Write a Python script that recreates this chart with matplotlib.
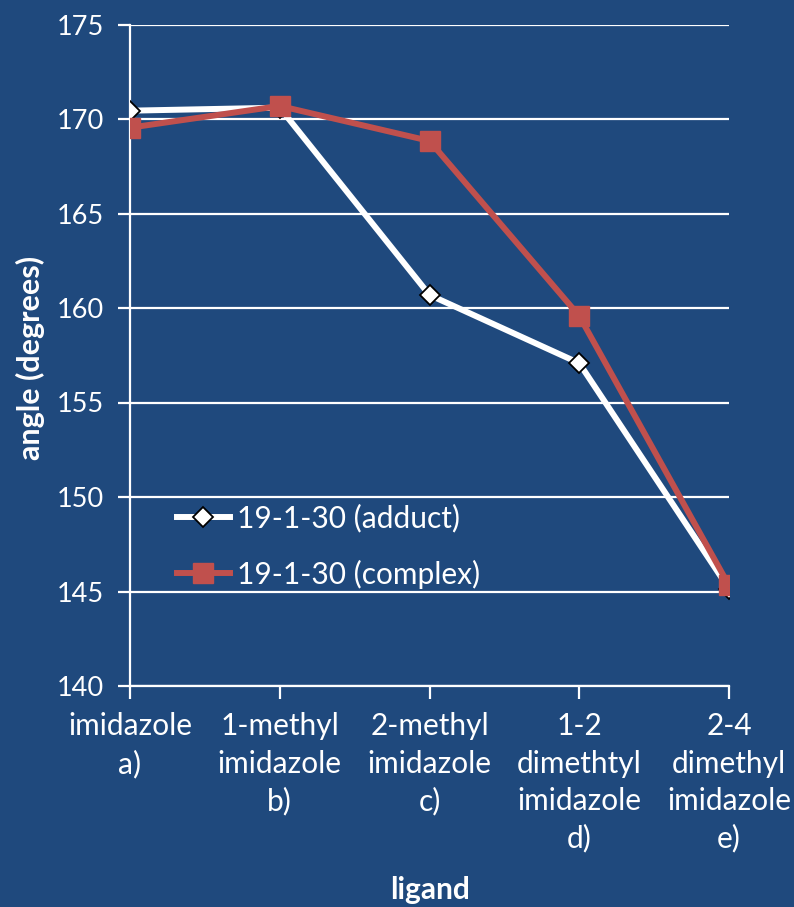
import matplotlib.pyplot as plt

categories = ['imidazole\na)', '1-methyl\nimidazole\nb)', '2-methyl\nimidazole\nc)',
              '1-2\ndimethtyl\nimidazole\nd)', '2-4\ndimethyl\nimidazole\ne)']
adduct = [170.44, 170.6, 160.69, 157.08, 145.14]
complex_ = [169.54, 170.69, 168.84, 159.58, 145.32]
y_ticks = [140, 145, 150, 155, 160, 165, 170, 175]

bg = '#1F497D'
red = '#C0504D'
plt.rcParams['font.family'] = ['Lato', 'DejaVu Sans']

fig = plt.figure(figsize=(7.94, 9.07), dpi=100, facecolor=bg)
ax = fig.add_axes([130 / 794, 1 - 686 / 907, 599 / 794, 661.5 / 907], facecolor=bg)

x = list(range(len(categories)))
ax.plot(x, adduct, color='white', lw=4.3, marker='D', ms=10, mfc='white',
        mec='black', mew=1.3, label='19-1-30 (adduct)', zorder=3)
ax.plot(x, complex_, color=red, lw=4.3, marker='s', ms=14.5, mfc=red,
        mec=red, label='19-1-30 (complex)', zorder=4)

ax.set_xlim(0, len(categories) - 1)
ax.set_ylim(140, 175)
ax.set_yticks(y_ticks)
ax.set_xticks(x)
ax.set_xticklabels(categories, linespacing=1.4, va='top')
ax.yaxis.grid(True, color='white', lw=1.6)
ax.set_axisbelow(True)

for side in ['top', 'right']:
    ax.spines[side].set_visible(False)
for side in ['left', 'bottom']:
    ax.spines[side].set_color('white')
    ax.spines[side].set_linewidth(1.6)
ax.tick_params(colors='white', width=1.6, length=9, direction='out')
ax.tick_params(axis='x', labelsize=21.5, pad=10)
ax.tick_params(axis='y', labelsize=19.5, pad=10)

ax.set_ylabel('angle (degrees)', color='white', fontsize=22, fontweight='bold',
              va='center', ha='center')
ax.yaxis.set_label_coords((30 - 130) / 599, (686 - 358) / 661.5)
ax.set_xlabel('ligand', color='white', fontsize=21.5, fontweight='bold',
              va='center', ha='center')
ax.xaxis.set_label_coords((430 - 130) / 599, (686 - 890) / 661.5)

leg = ax.legend(loc='upper left', bbox_to_anchor=(150 / 794, 1 - 477 / 907),
                bbox_transform=fig.transFigure, frameon=False, fontsize=21.5,
                labelcolor='white', handlelength=1.77, handletextpad=0.23,
                labelspacing=0.9)

fig.savefig('out.png', dpi=100, facecolor=bg)
